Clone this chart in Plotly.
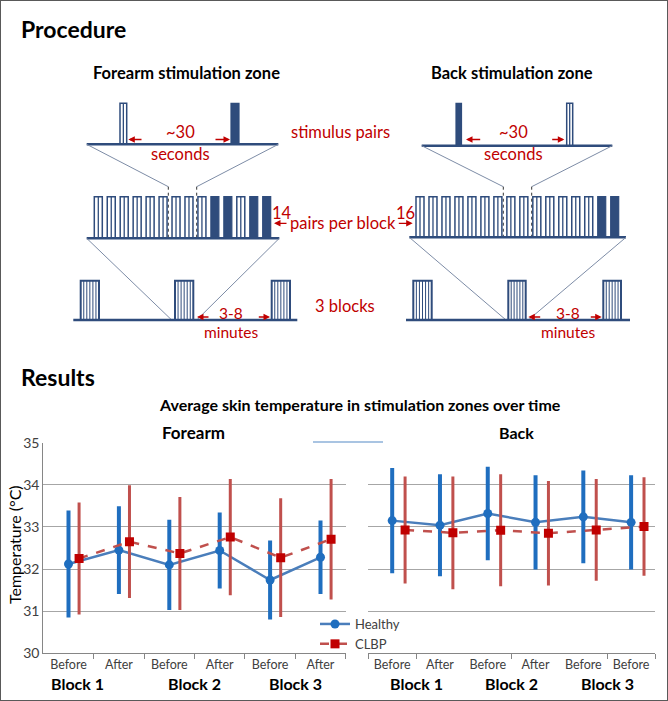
import plotly.graph_objects as go

W, H = 668, 701

# ---------------- data ----------------
categories_forearm = ["Before", "After", "Before", "After", "Before", "After"]
categories_back = ["Before", "After", "Before", "After", "Before", "Before"]
block_labels = ["Block 1", "Block 2", "Block 3"]

forearm_healthy = [32.12, 32.45, 32.10, 32.44, 31.74, 32.28]
forearm_healthy_sd = [1.27, 1.04, 1.07, 0.90, 0.94, 0.87]
forearm_clbp = [32.25, 32.65, 32.37, 32.76, 32.27, 32.71]
forearm_clbp_sd = [1.33, 1.34, 1.34, 1.38, 1.41, 1.43]

back_healthy = [33.15, 33.04, 33.32, 33.11, 33.24, 33.11]
back_healthy_sd = [1.25, 1.21, 1.11, 1.12, 1.10, 1.12]
back_clbp = [32.93, 32.86, 32.92, 32.85, 32.93, 33.01]
back_clbp_sd = [1.27, 1.34, 1.33, 1.24, 1.21, 1.17]

pairs_forearm = 14
pairs_back = 16
n_blocks = 3

# ---------------- styles ----------------
FONT = "Lato"
BLUE = "#1F6EBF"
BLUE_LINE = "#4A7EBB"
RED_BAR = "#C0504D"
RED_MK = "#C00000"
DRED = "#C00000"
NAVY = "#2F4C7C"
THIN = "#7D8CA6"
GRID = "#A6A6A6"
AX = "#868686"
TXT = "#404040"

fig = go.Figure()

x_idx = list(range(len(categories_forearm)))
off_l = 0.21
off_r = 0.27

def add_series(x, y, sd, xa, ya, name, color_bar, color_line, color_mk, symbol, dash, thick, show):
    fig.add_trace(go.Scatter(
        x=x, y=y, xaxis=xa, yaxis=ya, name=name, legendgroup=name, showlegend=show,
        mode="lines+markers",
        line=dict(color=color_line, width=2.5, dash=dash),
        marker=dict(symbol=symbol, size=9, color=color_mk),
        error_y=dict(type="data", array=sd, thickness=thick, width=0, color=color_bar),
    ))

add_series(x_idx, forearm_healthy, forearm_healthy_sd, "x", "y", "Healthy",
           BLUE, BLUE_LINE, BLUE, "circle", "solid", 4, True)
add_series([i + off_l for i in x_idx], forearm_clbp, forearm_clbp_sd, "x", "y", "CLBP",
           RED_BAR, RED_BAR, RED_MK, "square", "dash", 3, True)
add_series(x_idx, back_healthy, back_healthy_sd, "x2", "y2", "Healthy",
           BLUE, BLUE_LINE, BLUE, "circle", "solid", 4, False)
add_series([i + off_r for i in x_idx], back_clbp, back_clbp_sd, "x2", "y2", "CLBP",
           RED_BAR, RED_BAR, RED_MK, "square", "dash", 3, False)

# dummy trace for the pixel-space diagram axes
fig.add_trace(go.Scatter(x=[], y=[], xaxis="x3", yaxis="y3", showlegend=False, hoverinfo="skip"))

ydom = [1 - 653.3 / H, 1 - 442.7 / H]
bounds = [i + 0.5 for i in range(-1, 6)]

xcommon = dict(range=[-0.5, 5.5], tickmode="array", tickvals=x_idx, ticks="",
               showline=True, linecolor=AX, linewidth=1, showgrid=False, zeroline=False,
               tickfont=dict(family=FONT, size=12.5, color=TXT), fixedrange=True, automargin=False)
fig.update_layout(
    xaxis=dict(domain=[43.3 / W, 345.7 / W], ticktext=categories_forearm, anchor="y",
               minor=dict(tickvals=bounds[1:], ticks="outside", ticklen=5, tickcolor=AX, showgrid=False),
               **xcommon),
    xaxis2=dict(domain=[368.3 / W, 655 / W], ticktext=categories_back, anchor="y2",
                minor=dict(tickvals=[bounds[0], bounds[1], bounds[3], bounds[5], bounds[6]],
                           ticks="outside", ticklen=5, tickcolor=AX, showgrid=False),
                **xcommon),
    yaxis=dict(domain=ydom, range=[30, 35], dtick=1, showgrid=True, gridcolor=GRID, gridwidth=1,
               showline=True, linecolor=AX, linewidth=1, zeroline=False, ticks="",
               tickfont=dict(family=FONT, size=14, color=TXT), anchor="x", automargin=False,
               fixedrange=True),
    yaxis2=dict(domain=ydom, range=[30, 35], dtick=1, showgrid=True, gridcolor=GRID, gridwidth=1,
                showline=False, zeroline=False, showticklabels=False, ticks="", anchor="x2",
                automargin=False, fixedrange=True),
    xaxis3=dict(domain=[0, 1], range=[0, W], visible=False, anchor="y3", fixedrange=True,
                automargin=False, showticklabels=False, showgrid=False, zeroline=False),
    yaxis3=dict(domain=[0, 1], range=[H, 0], visible=False, anchor="x3", fixedrange=True,
                automargin=False, showticklabels=False, showgrid=False, zeroline=False),
)

shapes = []
ann = []

def line(x0, y0, x1, y1, color=NAVY, width=2.5, dash="solid"):
    shapes.append(dict(type="line", xref="x3", yref="y3", x0=x0, y0=y0, x1=x1, y1=y1,
                       line=dict(color=color, width=width, dash=dash), layer="above"))

def rect(x0, y0, x1, y1, fill=None, width=1.5):
    shapes.append(dict(type="rect", xref="x3", yref="y3", x0=x0, y0=y0, x1=x1, y1=y1,
                       line=dict(color=NAVY, width=width),
                       fillcolor=fill if fill else "rgba(0,0,0,0)", layer="above"))

def pulse(x0, y0, x1, y1, solid=False):
    if solid:
        rect(x0, y0, x1, y1, fill=NAVY, width=1.2)
    else:
        rect(x0, y0, x1, y1, width=1.5)
        line((x0 + x1) / 2, y0, (x0 + x1) / 2, y1, width=1.3)

def block(x0, y0, x1, y1):
    rect(x0, y0, x1, y1, width=2)
    n = 5
    for k in range(1, n + 1):
        xx = x0 + (x1 - x0) * k / (n + 1)
        line(xx, y0, xx, y1, width=1)

def text(x, y, s, size=15, color=DRED, bold=False, xanchor="center", angle=0):
    ann.append(dict(xref="x3", yref="y3", x=x, y=y, text=("<b>%s</b>" % s) if bold else s,
                    showarrow=False, xanchor=xanchor, yanchor="middle", textangle=angle,
                    font=dict(family=FONT, size=size, color=color)))

def arrow(xh, yh, xt, yt):
    ann.append(dict(xref="x3", yref="y3", x=xh, y=yh, ax=xt, ay=yt, axref="x3", ayref="y3",
                    text="", showarrow=True, arrowhead=2, arrowsize=1, arrowwidth=1.3,
                    arrowcolor=DRED))

def diagram(g, n_pairs):
    # top row: one stimulus pair
    line(g["top_x0"], g["top_y"], g["top_x1"], g["top_y"])
    for (a, b, solid) in g["spikes"]:
        pulse(a, 103.3, b, g["top_y"], solid)
    # zoom lines
    line(g["top_x0"], g["top_y"], g["mid_z0"], 186.7, color=THIN, width=1)
    line(g["top_x1"], g["top_y"], g["mid_z1"], 186.7, color=THIN, width=1)
    line(g["mid_z0"], 186.7, g["mid_z0"], g["mid_y"], color="#333333", width=1, dash="dot")
    line(g["mid_z1"], 186.7, g["mid_z1"], g["mid_y"], color="#333333", width=1, dash="dot")
    # middle row: pairs per block
    line(g["mid_x0"], g["mid_y"], g["mid_x1"], g["mid_y"])
    pw = 8.0
    pitch = (g["p_end"] - pw - g["p_start"]) / (n_pairs - 1)
    for i in range(n_pairs):
        a = g["p_start"] + i * pitch
        pulse(a, 196.7, a + pw, g["mid_y"], solid=(i in g["solid"]))
    # zoom lines to blocks
    line(g["mid_x0"], g["mid_y"], g["bot_z0"], 320, color=THIN, width=1)
    line(g["mid_x1"], g["mid_y"], g["bot_z1"], 320, color=THIN, width=1)
    # bottom row: blocks
    line(g["bot_x0"], 320, g["bot_x1"], 320)
    for (a, b) in g["blocks"][:n_blocks]:
        block(a, 280.7, b, 320)
    # labels
    text(g["cx_top"], 131.7, "~30", size=16.5)
    text(g["cx_top"], 154.3, "seconds", size=16.5)
    for (h, t) in g["arr_top"]:
        arrow(h, 139.5, t, 139.5)
    text(g["cx_bot"], 312.5, "3-8", size=15.5)
    text(g["cx_bot"], 331.5, "minutes", size=15.5)
    for (h, t) in g["arr_bot"]:
        arrow(h, 317, t, 317)
    text(g["title_x"], 73.3, g["title"], size=16.5, color="#000000", bold=True)

forearm_geom = dict(
    title="Forearm stimulation zone", title_x=186.7,
    top_x0=86.7, top_x1=278.3, top_y=144.3,
    spikes=[(120, 126.7, False), (231, 239, True)],
    mid_z0=168.3, mid_z1=196.7,
    mid_x0=86.7, mid_x1=279.3, mid_y=238.3, p_start=94.3, p_end=270.7,
    solid=[9, 10, 12, 13],
    bot_z0=171.7, bot_z1=196.7,
    bot_x0=73.3, bot_x1=297.3,
    blocks=[(80.7, 99), (175, 193.3), (271.7, 290)],
    cx_top=180, cx_bot=231,
    arr_top=[(128.3, 143), (230, 214)],
    arr_bot=[(197, 210), (270, 257.3)],
)
back_geom = dict(
    title="Back stimulation zone", title_x=512.3,
    top_x0=421.7, top_x1=612.3, top_y=145.7,
    spikes=[(456, 461.5, True), (566.7, 572.7, False)],
    mid_z0=503.3, mid_z1=531.7,
    mid_x0=409.3, mid_x1=626, mid_y=237.3, p_start=416, p_end=618.7,
    solid=[14, 15],
    bot_z0=506, bot_z1=528.3,
    bot_x0=406, bot_x1=630,
    blocks=[(413.3, 431.7), (508.3, 525.7), (603.3, 621)],
    cx_top=513.3, cx_bot=568.3,
    arr_top=[(466, 481.7), (564.3, 550.7)],
    arr_bot=[(528.3, 541.7), (601.7, 589.3)],
)
diagram(forearm_geom, pairs_forearm)
diagram(back_geom, pairs_back)

# side labels of the procedure
text(340, 132.3, "stimulus pairs", size=16.5)
text(281.7, 213.3, str(pairs_forearm), size=16.5)
text(405, 213.3, str(pairs_back), size=16.5)
text(343.3, 223.3, "pairs per block", size=16.5)
arrow(274, 223.3, 288, 223.3)
arrow(412.7, 223.3, 397.3, 223.3)
text(345, 305.7, "%d blocks" % n_blocks, size=16.5)

# section titles
text(19, 29, "Procedure", size=23, color="#000000", bold=True, xanchor="left")
text(19, 377, "Results", size=23, color="#000000", bold=True, xanchor="left")
text(360, 404, "Average skin temperature in stimulation zones over time", size=16,
     color="#000000", bold=True)
text(193, 432, "Forearm", size=17, color="#000000", bold=True)
text(516.7, 432, "Back", size=16, color="#000000", bold=True)
text(14, 545, "Temperature (°C)", size=16, color="#000000", angle=-90)

# block labels under the x axes
block_pos_left = [0.17, 2.5, 4.5]
block_pos_right = [0.5, 2.5, 4.5]
for lab, xp in zip(block_labels, block_pos_left):
    ann.append(dict(xref="x", yref="y3", x=xp, y=683, text="<b>%s</b>" % lab, showarrow=False,
                    xanchor="center", yanchor="middle", font=dict(family=FONT, size=16, color="#000000")))
for lab, xp in zip(block_labels, block_pos_right):
    ann.append(dict(xref="x2", yref="y3", x=xp, y=683, text="<b>%s</b>" % lab, showarrow=False,
                    xanchor="center", yanchor="middle", font=dict(family=FONT, size=16, color="#000000")))

# small bluish artefact on the top gridline
line(313, 442, 383, 442, color="#8DB0D8", width=1.5)

# outer frame
shapes.append(dict(type="rect", xref="paper", yref="paper", x0=0, y0=0, x1=1, y1=1,
                   line=dict(color="#595959", width=2), layer="above"))

fig.update_layout(
    width=W, height=H, margin=dict(l=0, r=0, t=0, b=0, pad=0, autoexpand=False),
    paper_bgcolor="white", plot_bgcolor="rgba(0,0,0,0)",
    shapes=shapes, annotations=ann,
    legend=dict(x=315 / W, y=1 - 609 / H, xanchor="left", yanchor="top",
                bgcolor="rgba(0,0,0,0)", font=dict(family=FONT, size=13, color=TXT),
                tracegroupgap=0, itemwidth=30),
    font=dict(family=FONT),
    showlegend=True,
)

fig.write_html("out.html", config={"displayModeBar": False},
               post_script="document.body.style.margin='0px';")
